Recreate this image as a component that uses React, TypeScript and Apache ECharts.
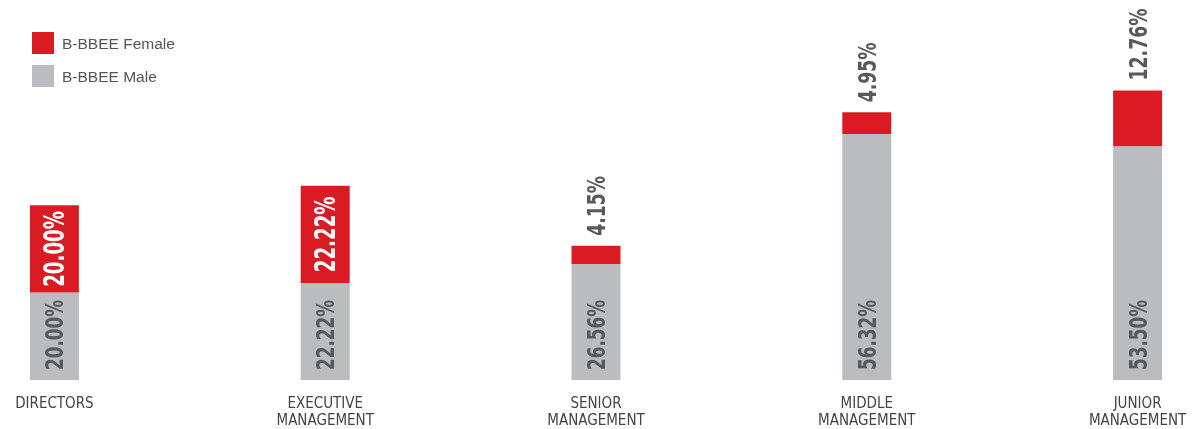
import React, { useEffect, useRef } from "react";
import * as echarts from "echarts";

const categories = ["DIRECTORS", "EXECUTIVE\nMANAGEMENT", "SENIOR\nMANAGEMENT", "MIDDLE\nMANAGEMENT", "JUNIOR\nMANAGEMENT"];
const maleValues = [20.0, 22.22, 26.56, 56.32, 53.5];
const femaleValues = [20.0, 22.22, 4.15, 4.95, 12.76];
const femaleInside = [1, 1, 0, 0, 0];

const RED = "#D91C24";
const GREY = "#BBBCC0";
const TEXT = "#58595B";
const NUM_FONT = "'DejaVu Sans Condensed', 'DejaVu Sans', sans-serif";

export default function App() {
  const ref = useRef<HTMLDivElement>(null);
  useEffect(() => {
    if (!ref.current) return;
    const chart = echarts.init(ref.current, undefined, { renderer: "svg" });
    const labelData = categories.map((_, i) => [i, maleValues[i], femaleValues[i], femaleInside[i]]);
    const mkText = (text: string, x: number, y: number, align: string, fill: string, size: number, sx: number) => ({
      type: "text",
      x,
      y,
      rotation: Math.PI / 2,
      scaleX: sx,
      scaleY: 1.05,
      style: {
        text,
        fill,
        align,
        verticalAlign: "middle",
        fontFamily: NUM_FONT,
        fontWeight: "bold",
        fontSize: size,
      },
    });
    chart.setOption({
      animation: false,
      legend: {
        data: ["B-BBEE Female", "B-BBEE Male"],
        orient: "vertical",
        left: 113,
        top: 32,
        padding: 0,
        itemWidth: 22,
        itemHeight: 22,
        itemGap: 11,
        icon: "rect",
        textStyle: { fontFamily: "'Liberation Sans', Arial, sans-serif", fontSize: 15.5, color: "#555", padding: [0, 0, 0, 3] },
      },
      grid: { left: 0, right: 0, top: 30.4, height: 349.6, outerBoundsMode: "none", containLabel: false },
      xAxis: {
        type: "category",
        data: categories,
        axisLine: { show: false },
        axisTick: { show: false },
        axisLabel: {
          margin: 15,
          fontFamily: "'DejaVu Sans Condensed', sans-serif",
          fontSize: 15,
          lineHeight: 16.5,
          color: "#444",
        },
      },
      yAxis: { type: "value", min: 0, max: 80, show: false, splitLine: { show: false } },
      series: [
        {
          name: "B-BBEE Male",
          type: "bar",
          stack: "s",
          barWidth: 49,
          itemStyle: { color: GREY },
          data: maleValues,
        },
        {
          name: "B-BBEE Female",
          type: "bar",
          stack: "s",
          barWidth: 49,
          itemStyle: { color: RED },
          data: femaleValues,
        },
        {
          name: "labels",
          type: "custom",
          silent: true,
          z: 10,
          encode: { x: 0, y: 1 },
          data: labelData,
          renderItem: (params: any, api: any) => {
            const i = api.value(0);
            const m = api.value(1);
            const f = api.value(2);
            const inside = api.value(3);
            const base = api.coord([i, 0]);
            const mTop = api.coord([i, m]);
            const fTop = api.coord([i, m + f]);
            const x = base[0];
            const children: any[] = [];
            children.push(mkText(m.toFixed(2) + "%", x, base[1] - 10, "left", TEXT, 24, 0.78));
            if (inside) {
              children.push(mkText(f.toFixed(2) + "%", x, (mTop[1] + fTop[1]) / 2, "center", "#fff", 27, 0.75));
            } else {
              children.push(mkText(f.toFixed(2) + "%", x, fTop[1] - 10, "left", TEXT, 24, 0.8));
            }
            return { type: "group", children };
          },
        },
      ],
    });
    return () => chart.dispose();
  }, []);
  return <div ref={ref} style={{ position: "fixed", left: -81, top: 0, width: 1354, height: 429 }} />;
}
